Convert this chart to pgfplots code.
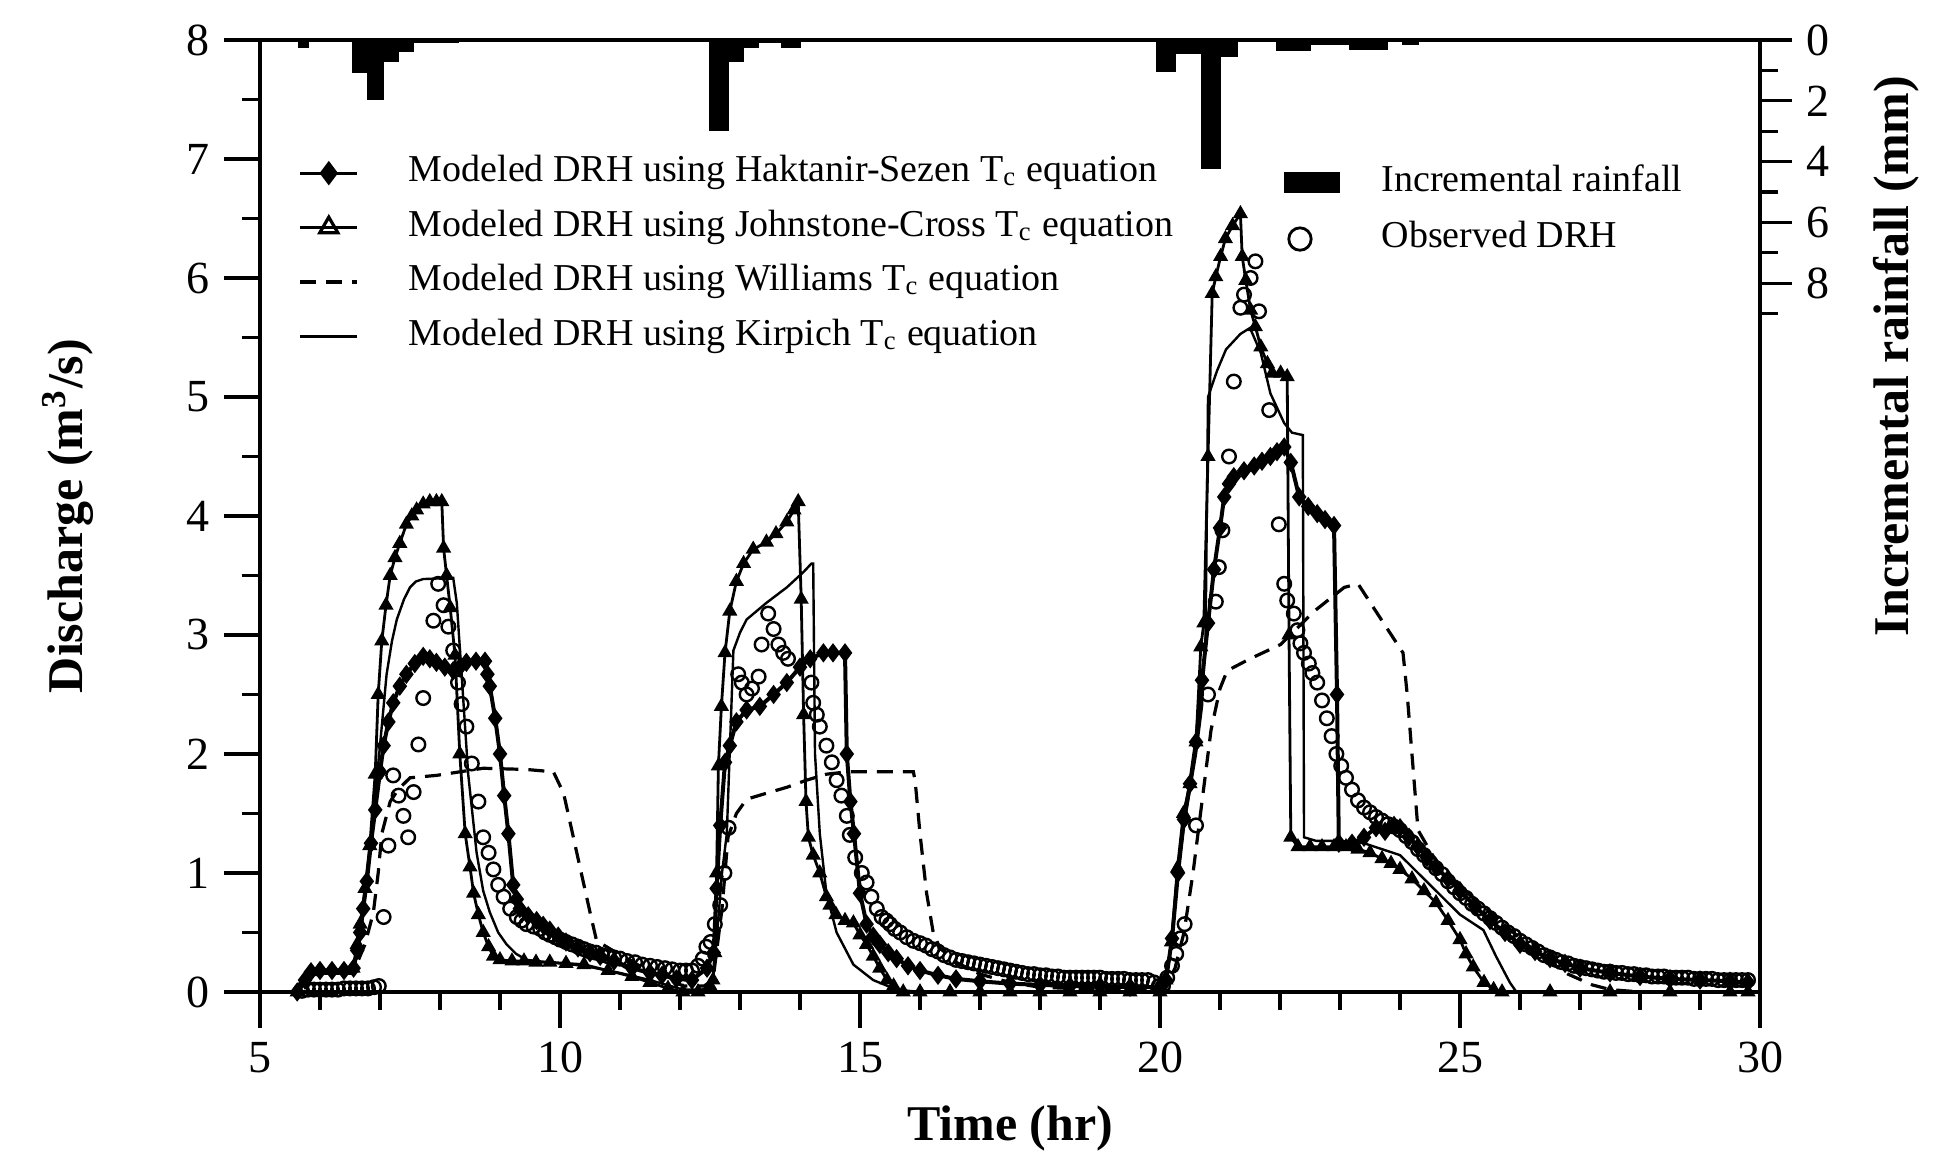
\documentclass[border=0pt]{standalone}
\usepackage{fontspec}
\setmainfont{Liberation Serif}
\usepackage{pgfplots}
\pgfplotsset{compat=1.18}
\usetikzlibrary{calc}

\begin{document}
\begin{tikzpicture}
% discharge axis
\begin{axis}[name=main, scale only axis, width=375pt, height=238pt,
  xmin=5, xmax=30, ymin=0, ymax=8,
  xtick={5,10,...,30}, ytick={0,1,...,8},
  minor x tick num=4, minor y tick num=1,
  xtick pos=left, ytick pos=left, tick align=outside,
  major tick length=9pt, minor tick length=4.5pt,
  axis line style={line width=0.8pt},
  every tick/.style={black, line width=0.8pt},
  tick label style={font=\fontsize{11.5}{13}\selectfont},
  /pgf/number format/assume math mode=true,
  xlabel={\bfseries Time (hr)}, ylabel={\bfseries Discharge (m\textsuperscript{3}/s)},
  label style={font=\fontsize{12.5}{14}\selectfont},
  xlabel style={at={(axis description cs:0.5,-0.143)}, anchor=center},
  ylabel style={at={(axis description cs:-0.128,0.5)}, anchor=center},
  clip=false,
  legend style={draw=none, fill=none, at={(0.0253,0.882)}, anchor=north west,
    inner sep=0pt, row sep=3.6pt, column sep=12.5pt,
    font=\fontsize{9.5}{11}\selectfont,
    nodes={inner sep=0pt, text height=0.72em, text depth=0.28em}},
  legend cell align=left,
  legend image code/.code={\draw[mark repeat=2,mark phase=2] plot coordinates {(0cm,0cm) (0.25cm,0cm) (0.5cm,0cm)};}
]
% Williams (dashed)
\addplot[black, line width=0.8pt, dash pattern=on 4pt off 2.5pt, forget plot] coordinates {
(5.62,0) (5.75,0.1) (5.85,0.17) (6.5,0.18) (6.6,0.22) (6.75,0.4) (6.89,0.67) (6.97,1.0) (7.03,1.33)
(7.17,1.6) (7.3,1.7) (7.5,1.8) (7.94,1.82) (8.72,1.88) (9.44,1.87) (9.89,1.85) (10.06,1.67) (10.28,1.17)
(10.5,0.67) (10.61,0.43) (10.94,0.33) (11.5,0.17) (12.06,0.05) (12.4,0.05) (12.55,0.1) (12.7,0.7)
(12.8,1.3) (12.94,1.5) (13.11,1.62) (13.44,1.67) (13.78,1.72) (14.11,1.78) (14.44,1.83) (14.78,1.85)
(15.89,1.85) (15.92,1.77) (16.0,1.33) (16.11,0.83) (16.22,0.5) (16.33,0.37) (16.6,0.25) (17.0,0.15)
(17.5,0.08) (18.0,0.04) (19.0,0.02) (20.0,0.02) (20.1,0.05) (20.25,0.2) (20.4,0.5) (20.55,1.0) (20.7,1.6)
(20.85,2.2) (21.0,2.55) (21.12,2.7) (21.5,2.8) (22.01,2.92) (22.57,3.2) (23.07,3.4) (23.3,3.43)
(23.7,3.12) (24.05,2.85) (24.12,2.5) (24.3,1.36) (24.6,1.1) (25.0,0.88) (25.28,0.77) (25.67,0.6)
(26.0,0.45) (26.4,0.28) (26.8,0.15) (27.2,0.06) (27.5,0.02) (28,0) (29.8,0)};
% Kirpich (plain)
\addplot[black, line width=0.6pt, forget plot] coordinates {
(5.62,0) (5.75,0.1) (5.85,0.17) (6.5,0.18) (6.56,0.2) (6.64,0.45) (6.72,0.67) (6.8,1.05) (6.89,1.5)
(7.0,2.07) (7.11,2.67) (7.2,2.95) (7.28,3.13) (7.4,3.3) (7.5,3.4) (7.6,3.45) (7.72,3.47) (8.22,3.48)
(8.28,3.27) (8.36,2.67) (8.47,1.83) (8.61,1.17) (8.72,0.85) (8.83,0.67) (8.97,0.5) (9.11,0.4) (9.27,0.32)
(9.44,0.27) (9.8,0.25) (10.4,0.22) (11.0,0.16) (11.5,0.1) (12.05,0.02) (12.4,0.02) (12.55,0.1)
(12.62,0.5) (12.7,1.0) (12.78,1.33) (12.89,2.87) (13.0,3.02) (13.11,3.13) (13.44,3.27) (13.78,3.4)
(14.06,3.53) (14.19,3.6) (14.22,3.6) (14.25,2.0) (14.33,1.33) (14.44,0.83) (14.61,0.5) (14.89,0.23)
(15.22,0.1) (15.61,0.02) (16.0,0) (20.0,0) (20.05,0.02) (20.1,0.1) (20.2,0.45) (20.3,1.0) (20.4,1.4)
(20.5,1.7) (20.6,2.0) (20.7,2.4) (20.76,3.0) (20.8,5.0) (20.95,5.22) (21.1,5.4) (21.34,5.53) (21.5,5.58)
(21.68,5.37) (21.84,5.03) (22.07,4.78) (22.2,4.7) (22.38,4.68) (22.4,1.3) (22.6,1.27) (23.0,1.27)
(23.4,1.25) (23.7,1.2) (24.0,1.15) (24.3,1.0) (24.6,0.85) (25.0,0.65) (25.39,0.52) (25.6,0.3)
(25.83,0.08) (25.94,0) (29.8,0)};
% Johnstone-Cross (triangles)
\addplot[black, line width=0.7pt, mark=triangle*, mark size=1.5pt, mark options={solid}, forget plot] coordinates {
(5.62,0) (5.75,0.1) (5.85,0.17) (6.0,0.18) (6.2,0.18) (6.4,0.18) (6.55,0.2) (6.62,0.4) (6.67,0.57)
(6.75,0.87) (6.83,1.23) (6.92,1.83) (6.97,2.5) (7.03,2.95) (7.1,3.25) (7.17,3.5) (7.25,3.65) (7.33,3.77)
(7.44,3.93) (7.53,4.0) (7.61,4.05) (7.72,4.1) (7.83,4.12) (7.94,4.12) (8.03,4.12) (8.06,3.73) (8.11,3.5)
(8.17,3.23) (8.25,2.83) (8.33,2.0) (8.42,1.33) (8.5,1.05) (8.56,0.83) (8.64,0.65) (8.72,0.5) (8.81,0.38)
(8.89,0.3) (9.0,0.27) (9.2,0.26) (9.4,0.26) (9.6,0.25) (9.83,0.25) (10.1,0.24) (10.4,0.23) (10.8,0.18)
(11.2,0.13) (11.5,0.08) (11.8,0.03) (12.05,0) (12.3,0) (12.5,0.05)
(12.55,0.1) (12.58,0.33) (12.61,1.0) (12.64,1.9) (12.69,2.4) (12.75,2.85) (12.83,3.2) (12.94,3.45)
(13.06,3.6) (13.22,3.72) (13.44,3.78) (13.6,3.85) (13.78,3.95) (13.9,4.05) (13.97,4.12) (14.02,3.3)
(14.06,2.33) (14.1,1.6) (14.14,1.3) (14.22,1.15) (14.33,1.0) (14.44,0.8) (14.5,0.73) (14.6,0.65)
(14.75,0.6) (14.89,0.58) (15.0,0.48) (15.11,0.4) (15.22,0.3) (15.33,0.2) (15.45,0.1) (15.56,0.05)
(15.72,0) (16.0,0) (16.5,0) (17,0) (17.5,0) (18,0) (18.5,0) (19,0) (19.5,0) (20.0,0)
(20.05,0.02) (20.1,0.1) (20.19,0.42) (20.29,1.04) (20.39,1.5) (20.5,1.75) (20.6,2.1) (20.68,2.9)
(20.73,3.1) (20.8,4.5) (20.87,5.87) (20.93,6.01) (21.01,6.18) (21.09,6.33) (21.21,6.44) (21.34,6.54)
(21.37,6.18) (21.43,5.98) (21.51,5.73) (21.59,5.59) (21.68,5.42) (21.79,5.28) (21.87,5.2) (22.01,5.2)
(22.12,5.17) (22.15,3.0) (22.18,1.3) (22.3,1.22) (22.5,1.22) (22.7,1.22) (22.9,1.22) (23.1,1.22)
(23.3,1.2) (23.5,1.17) (23.7,1.12) (23.85,1.08) (24.0,1.03) (24.2,0.95) (24.4,0.85) (24.6,0.75)
(24.8,0.6) (25.0,0.44) (25.1,0.32) (25.22,0.21) (25.4,0.08) (25.56,0.02) (25.7,0) (26.5,0) (27.5,0)
(28.5,0) (29.5,0) (29.8,0)};
% Haktanir-Sezen (diamonds)
\addplot[black, line width=1pt, mark=diamond*, mark size=1.6pt, forget plot] coordinates {
(5.62,0) (5.75,0.1) (5.85,0.17) (6.0,0.18) (6.2,0.18) (6.4,0.18) (6.56,0.2) (6.62,0.35) (6.67,0.5)
(6.72,0.7) (6.78,0.93) (6.85,1.25) (6.92,1.53) (7.0,1.85) (7.06,2.07) (7.14,2.27) (7.22,2.43) (7.33,2.57)
(7.44,2.67) (7.58,2.76) (7.72,2.82) (7.83,2.8) (7.94,2.77) (8.08,2.73) (8.22,2.7) (8.33,2.73) (8.44,2.77)
(8.6,2.78) (8.75,2.78) (8.79,2.67) (8.83,2.57) (8.92,2.3) (9.0,2.0) (9.07,1.65) (9.14,1.33) (9.22,0.9)
(9.28,0.78) (9.33,0.7) (9.47,0.64) (9.61,0.6) (9.72,0.56) (9.83,0.52) (9.97,0.47) (10.1,0.42) (10.3,0.37)
(10.5,0.33) (10.67,0.3) (10.9,0.26) (11.2,0.2) (11.5,0.16) (11.7,0.14) (11.94,0.11) (12.2,0.1) (12.45,0.2)
(12.56,0.33) (12.61,0.87) (12.67,1.4) (12.75,1.93) (12.83,2.07) (12.94,2.27) (13.11,2.37) (13.33,2.4)
(13.56,2.5) (13.78,2.6) (14.0,2.73) (14.17,2.8) (14.39,2.85) (14.55,2.85) (14.75,2.85) (14.78,2.0)
(14.84,1.6) (14.9,1.33) (15.0,0.83) (15.11,0.57) (15.22,0.47) (15.33,0.4) (15.47,0.33) (15.61,0.28)
(15.8,0.22) (16.0,0.18) (16.3,0.14) (16.6,0.11) (17.0,0.09) (17.5,0.07) (18.0,0.06) (18.5,0.05)
(19.0,0.05) (19.5,0.04) (20.0,0.04)
(20.1,0.1) (20.2,0.45) (20.3,1.0) (20.4,1.45) (20.5,1.75) (20.6,2.1) (20.7,2.62) (20.8,3.1) (20.9,3.55)
(21.0,3.9) (21.07,4.16) (21.15,4.27) (21.23,4.33) (21.4,4.38) (21.57,4.42) (21.7,4.46) (21.84,4.5)
(21.95,4.54) (22.07,4.58) (22.18,4.45) (22.32,4.16) (22.47,4.08) (22.62,4.02) (22.75,3.97) (22.9,3.92)
(22.95,2.5) (22.98,1.25) (23.2,1.25) (23.4,1.3) (23.6,1.38) (23.75,1.35) (23.9,1.4) (24.0,1.38)
(24.15,1.3) (24.3,1.22) (24.45,1.13) (24.6,1.05) (24.8,0.95) (25.0,0.85) (25.25,0.72) (25.5,0.6)
(25.75,0.5) (26.0,0.4) (26.25,0.34) (26.5,0.28) (26.75,0.24) (27.0,0.2) (27.5,0.16) (28.0,0.13)
(28.5,0.11) (29.0,0.1) (29.5,0.09) (29.8,0.08)};
% Observed DRH (circles)
\addplot[only marks, mark=o, mark size=1.7pt, mark options={line width=0.6pt}, forget plot] coordinates {
(5.7,0.01) (5.8,0.02) (5.9,0.02) (6.0,0.02) (6.1,0.02) (6.2,0.02) (6.3,0.02) (6.4,0.03) (6.5,0.03)
(6.6,0.03) (6.7,0.03) (6.8,0.03) (6.9,0.04) (6.98,0.05) (7.06,0.63) (7.14,1.23) (7.22,1.82) (7.31,1.65)
(7.39,1.48) (7.47,1.3) (7.56,1.68) (7.64,2.08) (7.72,2.47) (7.89,3.12) (7.97,3.43) (8.06,3.25) (8.14,3.07)
(8.22,2.87) (8.3,2.6) (8.36,2.42) (8.44,2.23) (8.53,1.92) (8.64,1.6) (8.72,1.3) (8.81,1.17) (8.89,1.03)
(8.97,0.9) (9.06,0.8) (9.17,0.7) (9.28,0.63) (9.36,0.6) (9.44,0.57) (9.56,0.55) (9.67,0.53) (9.75,0.5)
(9.83,0.48) (9.92,0.46) (10.0,0.44) (10.1,0.42) (10.2,0.4) (10.3,0.38) (10.4,0.36) (10.5,0.34) (10.6,0.33)
(10.7,0.31) (10.8,0.3) (10.9,0.29) (11.0,0.28) (11.12,0.26) (11.25,0.25) (11.37,0.23) (11.5,0.22)
(11.62,0.21) (11.75,0.2) (11.87,0.19) (12.0,0.18) (12.1,0.18) (12.2,0.18) (12.3,0.22) (12.38,0.28)
(12.44,0.38) (12.51,0.42) (12.58,0.57) (12.67,0.73) (12.74,1.0) (12.81,1.38) (12.97,2.67) (13.03,2.6)
(13.11,2.5) (13.2,2.55) (13.31,2.65) (13.36,2.92) (13.47,3.18) (13.56,3.05) (13.64,2.92) (13.72,2.85)
(13.8,2.8) (14.19,2.6) (14.22,2.43) (14.28,2.33) (14.33,2.23) (14.44,2.07) (14.53,1.93) (14.61,1.78)
(14.69,1.65) (14.78,1.48) (14.83,1.32) (14.92,1.13) (15.03,1.0) (15.11,0.92) (15.19,0.8) (15.28,0.7)
(15.36,0.63) (15.44,0.6) (15.5,0.57) (15.58,0.53) (15.67,0.5) (15.78,0.46) (15.89,0.43) (16.0,0.41)
(16.1,0.39) (16.2,0.36) (16.3,0.34) (16.4,0.31) (16.5,0.29) (16.6,0.27) (16.7,0.26) (16.8,0.25)
(16.9,0.24) (17.0,0.23) (17.1,0.22) (17.2,0.21) (17.3,0.2) (17.4,0.19) (17.5,0.18) (17.6,0.17)
(17.7,0.16) (17.8,0.15) (17.9,0.15) (18.0,0.14) (18.1,0.14) (18.2,0.13) (18.3,0.13) (18.4,0.12)
(18.5,0.12) (18.6,0.12) (18.7,0.12) (18.8,0.12) (18.9,0.12) (19.0,0.12) (19.1,0.11) (19.2,0.11)
(19.3,0.11) (19.4,0.11) (19.5,0.1) (19.6,0.1) (19.7,0.1) (19.8,0.1) (19.9,0.08) (19.98,0.05)
(20.05,0.05) (20.12,0.12) (20.2,0.22) (20.27,0.32) (20.34,0.45) (20.41,0.57) (20.6,1.4) (20.8,2.5)
(20.93,3.28) (20.98,3.57) (21.04,3.88) (21.15,4.5) (21.23,5.13) (21.34,5.75) (21.4,5.86) (21.51,6.0)
(21.59,6.14) (21.65,5.72) (21.82,4.89) (21.98,3.93) (22.07,3.43) (22.12,3.29) (22.23,3.18) (22.29,3.04)
(22.34,2.93) (22.4,2.85) (22.48,2.76) (22.54,2.68) (22.62,2.6) (22.7,2.45) (22.78,2.3) (22.86,2.15)
(22.94,2.0) (23.02,1.9) (23.1,1.8) (23.2,1.7) (23.3,1.61) (23.4,1.55) (23.5,1.51) (23.6,1.47) (23.7,1.44)
(23.8,1.41) (23.9,1.39) (24.0,1.36) (24.1,1.31) (24.2,1.26) (24.3,1.2) (24.4,1.15) (24.5,1.09)
(24.6,1.04) (24.7,0.99) (24.8,0.93) (24.9,0.88) (25.0,0.83) (25.1,0.79) (25.2,0.74) (25.3,0.7)
(25.4,0.66) (25.5,0.62) (25.6,0.58) (25.7,0.54) (25.8,0.5) (25.9,0.47) (26.0,0.43) (26.1,0.4)
(26.2,0.37) (26.3,0.34) (26.4,0.31) (26.5,0.29) (26.6,0.27) (26.7,0.25) (26.8,0.24) (26.9,0.22)
(27.0,0.21) (27.1,0.2) (27.2,0.19) (27.3,0.18) (27.4,0.17) (27.5,0.17) (27.6,0.16) (27.7,0.16)
(27.8,0.15) (27.9,0.15) (28.0,0.14) (28.1,0.14) (28.2,0.13) (28.3,0.13) (28.4,0.13) (28.5,0.12)
(28.6,0.12) (28.7,0.12) (28.8,0.12) (28.9,0.11) (29.0,0.11) (29.1,0.11) (29.2,0.11) (29.3,0.1)
(29.4,0.1) (29.5,0.1) (29.6,0.1) (29.7,0.1) (29.8,0.1)};
\addlegendimage{black, line width=0.8pt, mark=diamond*, mark size=2.4pt}
\addlegendentry{Modeled DRH using Haktanir-Sezen T\textsubscript{c} equation}
\addlegendimage{black, line width=0.8pt, mark=triangle, mark size=2.6pt}
\addlegendentry{Modeled DRH using Johnstone-Cross T\textsubscript{c} equation}
\addlegendimage{black, line width=0.8pt, dash pattern=on 4pt off 2.5pt}
\addlegendentry{Modeled DRH using Williams T\textsubscript{c} equation}
\addlegendimage{black, line width=0.8pt}
\addlegendentry{Modeled DRH using Kirpich T\textsubscript{c} equation}
\end{axis}

% rainfall axis
\begin{axis}[scale only axis, width=375pt, height=238pt,
  xmin=5, xmax=30, ymin=0, ymax=31.3, y dir=reverse,
  hide x axis, axis y line*=right,
  ytick={0,2,...,8}, minor ytick={1,3,...,9},
  tick align=outside, major tick length=8pt, minor tick length=4.5pt,
  axis line style={line width=0.8pt},
  every tick/.style={black, line width=0.8pt},
  tick label style={font=\fontsize{11.5}{13}\selectfont},
  /pgf/number format/assume math mode=true,
  ylabel={\bfseries Incremental rainfall (mm)},
  label style={font=\fontsize{12.5}{14}\selectfont},
  ylabel style={at={(axis description cs:1.091,0.668)}, anchor=center},
  legend style={draw=none, fill=none, at={(0.682,0.872)}, anchor=north west,
    inner sep=0pt, row sep=4.1pt, column sep=10.5pt,
    font=\fontsize{9.5}{11}\selectfont,
    nodes={inner sep=0pt, text height=0.72em, text depth=0.28em}},
  legend cell align=left
]
\addplot[ybar interval, fill=black, draw=black, forget plot] coordinates {
(5.65,0.25) (5.8,0) (6.55,1.07) (6.8,1.95) (7.05,0.69) (7.3,0.36) (7.55,0.08) (8.3,0.04) (9.0,0)
(12.5,2.97) (12.8,0.71) (13.05,0.25) (13.3,0.06) (13.7,0.25) (14.0,0.05) (14.4,0)
(19.95,1.02) (20.25,0.42) (20.7,4.2) (21.0,0.53) (21.28,0.05) (21.95,0.33) (22.5,0.15) (23.17,0.3)
(23.78,0.05) (24.05,0.15) (24.3,0) (24.5,0)};
\addlegendimage{legend image code/.code={\fill[black] (0cm,-0.085cm) rectangle (0.476cm,0.085cm);}}
\addlegendentry{Incremental rainfall}
\addlegendimage{legend image code/.code={\draw[line width=0.7pt] (0.135cm,0cm) circle (2.8pt); \path (0.476cm,0cm);}}
\addlegendentry{Observed DRH}
\end{axis}

\pgfresetboundingbox
\path ($(main.south west)+(-65pt,-41.75pt)$) rectangle ($(main.north east)+(46pt,10pt)$);
\end{tikzpicture}
\end{document}
